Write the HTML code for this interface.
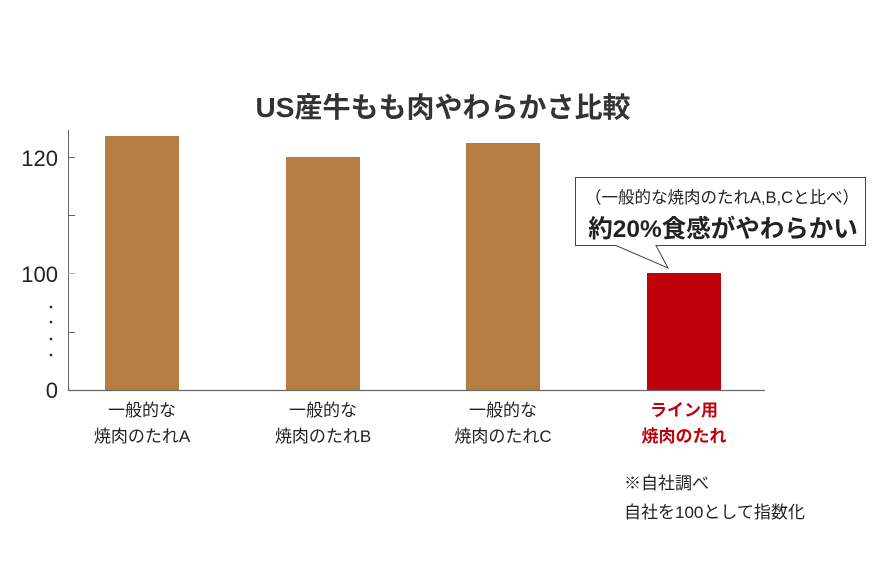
<!DOCTYPE html>
<html><head><meta charset="utf-8"><style>
body{margin:0;background:#fff;}
svg text{font-family:"Liberation Sans","Noto Sans CJK JP",sans-serif;}
</style></head><body>
<svg width="880" height="574" viewBox="0 0 880 574" xmlns="http://www.w3.org/2000/svg">
<text x="443" y="117" text-anchor="middle" font-size="28" font-weight="bold" fill="#333">US産牛もも肉やわらかさ比較</text>
<rect x="105" y="136" width="74" height="254" fill="#b57d41"/>
<rect x="286" y="157" width="74" height="233" fill="#b57d41"/>
<rect x="466" y="143" width="74" height="247" fill="#b57d41"/>
<rect x="647" y="273" width="74" height="117" fill="#c0000b"/>
<line x1="68.5" y1="130" x2="68.5" y2="390" stroke="#666" stroke-width="1"/>
<line x1="68" y1="390.5" x2="765" y2="390.5" stroke="#666" stroke-width="1.2"/>
<g stroke="#666" stroke-width="1">
<line x1="68" y1="157.5" x2="75" y2="157.5"/><line x1="68" y1="215.5" x2="75" y2="215.5"/>
<line x1="68" y1="273.5" x2="75" y2="273.5" stroke="#aaa"/><line x1="68" y1="332.5" x2="75" y2="332.5"/>
</g>
<g font-size="22" fill="#222" text-anchor="end">
<text x="58" y="166">120</text><text x="58" y="282">100</text><text x="58" y="398">0</text>
</g>
<g fill="#222"><circle cx="51" cy="307" r="1.3"/><circle cx="51" cy="322" r="1.3"/><circle cx="51" cy="339" r="1.3"/><circle cx="51" cy="355" r="1.3"/></g>
<g font-size="17" fill="#222" text-anchor="middle">
<text x="142" y="416">一般的な</text><text x="142" y="442">焼肉のたれA</text>
<text x="323" y="416">一般的な</text><text x="323" y="442">焼肉のたれB</text>
<text x="503" y="416">一般的な</text><text x="503" y="442">焼肉のたれC</text>
<text x="684" y="416" fill="#c0000b" font-weight="bold">ライン用</text><text x="684" y="442" fill="#c0000b" font-weight="bold">焼肉のたれ</text>
</g>
<g font-size="17" fill="#222">
<text x="624" y="489">※自社調べ</text><text x="624" y="518">自社を100として指数化</text>
</g>
<path d="M575.5 177.5 H865.5 V245.5 H656 L668 268 L616 245.5 H575.5 Z" fill="#fff" stroke="#444" stroke-width="1"/>
<text x="722" y="203" text-anchor="middle" font-size="16.5" fill="#222">（一般的な焼肉のたれA,B,Cと比べ）</text>
<text x="723" y="237" text-anchor="middle" font-size="24.5" font-weight="bold" fill="#222">約20%食感がやわらかい</text>
</svg>
</body></html>
